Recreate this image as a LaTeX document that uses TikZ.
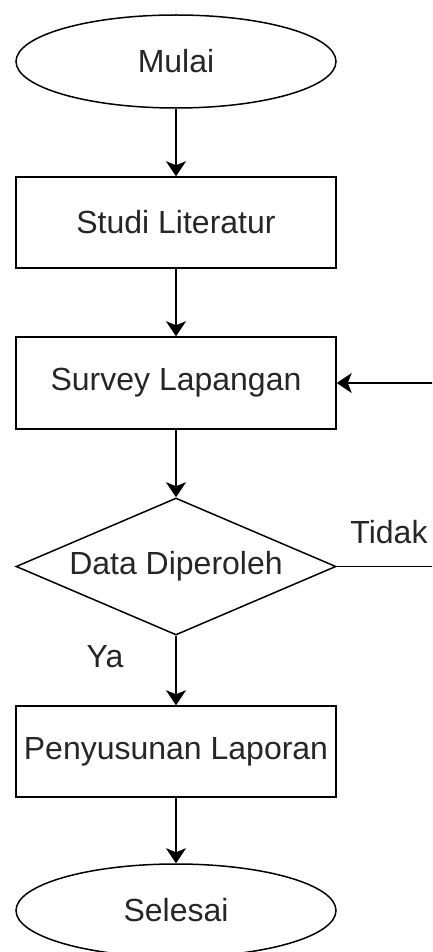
\documentclass[tikz,border=0pt]{standalone}
\usepackage{fontspec}
\setmainfont{Liberation Sans}
\usetikzlibrary{shapes.geometric,arrows.meta}
\begin{document}
\begin{tikzpicture}[x=1pt,y=-1pt,
  base/.style={draw=black,line width=1.5pt,inner sep=0pt,font=\fontsize{32}{38}\selectfont,text=black!85},
  term/.style={base,ellipse,minimum width=320pt,minimum height=93pt},
  proc/.style={base,rectangle,minimum width=320pt,minimum height=91pt},
  dec/.style={base,diamond,aspect=2.34,minimum width=320pt,minimum height=137pt},
  conn/.style={line width=1.5pt,-{Stealth[length=15pt,width=20pt,inset=4pt]}},
  lbl/.style={font=\fontsize{32}{38}\selectfont,text=black!85,inner sep=0pt}]
\clip (0,0) rectangle (432,952);
\node[term] (mulai) at (176,61.5) {Mulai};
\node[proc] (studi) at (176,222.5) {Studi Literatur};
\node[proc,minimum height=92pt] (survey) at (176,383) {Survey Lapangan};
\node[dec] (data) at (176,566.5) {Data Diperoleh};
\node[proc] (susun) at (176,751.5) {Penyusunan Laporan};
\node[term] (selesai) at (176,910.5) {Selesai};
\coordinate (r1) at (445,566.5);
\coordinate (r2) at (445,383);
\draw[conn] (mulai) -- (studi);
\draw[conn] (studi) -- (survey);
\draw[conn] (survey) -- (data);
\draw[conn] (data) -- (susun);
\draw[conn] (susun) -- (selesai);
\draw[conn] (data.east) -- (r1) -- (r2) -- (survey.east);
\node[lbl] (tidak) at (389,532) {Tidak};
\node[lbl] (ya) at (105,657) {Ya};
\end{tikzpicture}
\end{document}
